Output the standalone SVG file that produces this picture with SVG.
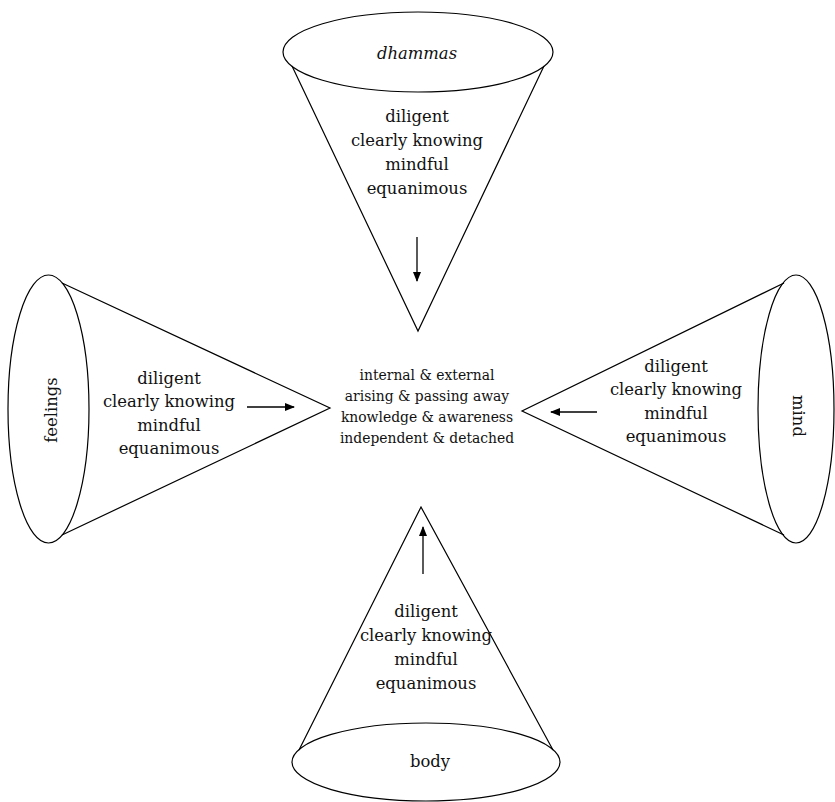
<svg xmlns="http://www.w3.org/2000/svg" width="835" height="802" viewBox="0 0 835 802">
<style>
.shape{fill:none;stroke:#000;stroke-width:1.2}
.t{font-family:"DejaVu Serif","Liberation Serif",serif;font-size:16.4px;fill:#111;text-anchor:middle}
.c{font-family:"DejaVu Serif","Liberation Serif",serif;font-size:13.9px;fill:#111;text-anchor:middle}
.arrow{stroke:#000;stroke-width:1.3;fill:none;marker-end:url(#ah)}
</style>
<defs>
<marker id="ah" viewBox="0 0 10 10" refX="9" refY="5" markerWidth="10" markerHeight="10" markerUnits="userSpaceOnUse" orient="auto">
<path d="M0,1 L10,5 L0,9 Z" fill="#000"/>
</marker>
</defs>
<rect width="835" height="802" fill="#fff"/>
<g id="dhammas">
<ellipse class="shape" cx="418" cy="52" rx="135" ry="40"/>
<polyline class="shape" points="292,66 418,331 544,66"/>
<text class="t" x="417" y="59" font-style="italic">dhammas</text>
<text class="t" x="417" y="122">diligent</text>
<text class="t" x="417" y="146">clearly knowing</text>
<text class="t" x="417" y="170">mindful</text>
<text class="t" x="417" y="194">equanimous</text>
</g>
<g id="feelings">
<ellipse class="shape" cx="48.5" cy="409" rx="40.5" ry="134"/>
<polyline class="shape" points="62,283 330,408 62,535"/>
<text class="t" transform="translate(57,410) rotate(-90)">feelings</text>
<text class="t" x="169" y="384">diligent</text>
<text class="t" x="169" y="407">clearly knowing</text>
<text class="t" x="169" y="431">mindful</text>
<text class="t" x="169" y="454">equanimous</text>
</g>
<g id="mind">
<ellipse class="shape" cx="796" cy="409" rx="38" ry="134"/>
<polyline class="shape" points="784,283 522,411 784,535"/>
<text class="t" transform="translate(793,416) rotate(90)">mind</text>
<text class="t" x="676" y="372">diligent</text>
<text class="t" x="676" y="395">clearly knowing</text>
<text class="t" x="676" y="419">mindful</text>
<text class="t" x="676" y="442">equanimous</text>
</g>
<g id="body">
<ellipse class="shape" cx="426" cy="762" rx="134" ry="39"/>
<polyline class="shape" points="299,750 421,507 553,750"/>
<text class="t" x="430" y="767">body</text>
<text class="t" x="426" y="617">diligent</text>
<text class="t" x="426" y="641">clearly knowing</text>
<text class="t" x="426" y="665">mindful</text>
<text class="t" x="426" y="689">equanimous</text>
</g>
<g id="center">
<text class="c" x="427" y="380">internal &amp; external</text>
<text class="c" x="427" y="401">arising &amp; passing away</text>
<text class="c" x="427" y="422">knowledge &amp; awareness</text>
<text class="c" x="427" y="443">independent &amp; detached</text>
</g>
<g id="connectors">
<line class="arrow" x1="417" y1="237" x2="417" y2="281"/>
<line class="arrow" x1="247" y1="407" x2="294" y2="407"/>
<line class="arrow" x1="597" y1="412" x2="551" y2="412"/>
<line class="arrow" x1="423" y1="574" x2="423" y2="527"/>
</g>
</svg>
